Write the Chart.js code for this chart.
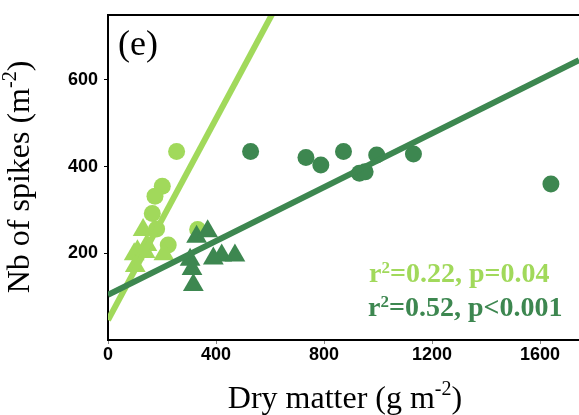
<!DOCTYPE html>
<html><head><meta charset="utf-8">
<script src="https://cdn.jsdelivr.net/npm/chart.js@4/dist/chart.umd.min.js"></script>
<style>html,body{margin:0;padding:0;background:#fff;overflow:hidden}</style>
</head><body>
<canvas id="c" width="579" height="415"></canvas>
<script>
const xTicks = [0, 400, 800, 1200, 1600];
const yTicks = [200, 400, 600];
const lightCircleX = [254, 201, 174, 164, 180, 223, 332];
const lightCircleY = [435, 355, 332, 292, 256, 219, 255];
const lightTriX = [130, 109, 97, 101, 137, 207, 144];
const lightTriY = [254, 205, 198, 171, 203, 198, 219];
const darkCircleX = [528, 733, 788, 872, 931, 952, 995, 1131, 1640];
const darkCircleY = [435, 421, 404, 435, 385, 388, 427, 429, 360];
const darkTriX = [328, 369, 421, 470, 390, 304, 311, 316];
const darkTriY = [238, 251, 195, 195, 188, 185, 164, 127];
const lightFitX = [0, 650];
const lightFitY = [46, 801];
const darkFitX = [0, 1744];
const darkFitY = [104, 646];

const LIGHT = '#a1d95b';
const DARK = '#3d8750';

const pts = (xs, ys) => xs.map((x, i) => ({x: x, y: ys[i]}));

function drawRich(ctx, segs, x, y, align) {
  let w = 0;
  segs.forEach(s => { ctx.font = s.font; w += ctx.measureText(s.t).width; });
  let cx = align === 'center' ? x - w / 2 : x;
  segs.forEach(s => {
    ctx.font = s.font;
    ctx.fillText(s.t, cx, y + (s.dy || 0));
    cx += ctx.measureText(s.t).width;
  });
}

const textPlugin = {
  id: 'texts',
  afterDraw(chart) {
    const ctx = chart.ctx;
    const a = chart.chartArea;
    ctx.save();
    ctx.strokeStyle = '#000';
    ctx.lineWidth = 2;
    ctx.beginPath();
    ctx.moveTo(a.left - 1, a.top);
    ctx.lineTo(a.right, a.top);
    ctx.stroke();
    ctx.textBaseline = 'alphabetic';
    ctx.fillStyle = '#000';
    ctx.font = '36px "Liberation Serif"';
    ctx.fillText('(e)', 118, 55);
    const big = '32px "Liberation Serif"', small = '20px "Liberation Serif"';
    drawRich(ctx, [
      {t: 'Dry matter (g m', font: big},
      {t: '-2', font: small, dy: -13},
      {t: ')', font: big}
    ], 345, 408, 'center');
    ctx.save();
    ctx.translate(29, 177);
    ctx.rotate(-Math.PI / 2);
    drawRich(ctx, [
      {t: 'Nb of spikes (m', font: big},
      {t: '-2', font: small, dy: -13},
      {t: ')', font: big}
    ], 0, 0, 'center');
    ctx.restore();
    const sb = 'bold 28px "Liberation Serif"', ss = 'bold 17px "Liberation Serif"';
    ctx.fillStyle = LIGHT;
    drawRich(ctx, [
      {t: 'r', font: sb}, {t: '2', font: ss, dy: -9}, {t: '=0.22, p=0.04', font: sb}
    ], 369, 282, 'left');
    ctx.fillStyle = DARK;
    drawRich(ctx, [
      {t: 'r', font: sb}, {t: '2', font: ss, dy: -9}, {t: '=0.52, p<0.001', font: sb}
    ], 368, 316, 'left');
    ctx.restore();
  }
};

new Chart(document.getElementById('c'), {
  type: 'scatter',
  data: {
    datasets: [
      {data: pts(darkFitX, darkFitY), showLine: true, borderColor: DARK, borderWidth: 6, pointRadius: 0, clip: 0, order: 0},
      {data: pts(darkCircleX, darkCircleY), pointStyle: 'circle', pointRadius: 8.5, backgroundColor: DARK, borderWidth: 0, order: 1},
      {data: pts(darkTriX, darkTriY), pointStyle: 'triangle', pointRadius: 12, backgroundColor: DARK, borderWidth: 0, order: 2},
      {data: pts(lightFitX, lightFitY), showLine: true, borderColor: LIGHT, borderWidth: 6, pointRadius: 0, clip: 0, order: 3},
      {data: pts(lightCircleX, lightCircleY), pointStyle: 'circle', pointRadius: 8.5, backgroundColor: LIGHT, borderWidth: 0, order: 5},
      {data: pts(lightTriX, lightTriY), pointStyle: 'triangle', pointRadius: 12, backgroundColor: LIGHT, borderWidth: 0, order: 4}
    ]
  },
  options: {
    responsive: false,
    animation: false,
    devicePixelRatio: 1,
    layout: {autoPadding: false, padding: {top: 15, right: 0, left: 0, bottom: 0}},
    plugins: {legend: {display: false}, tooltip: {enabled: false}},
    scales: {
      x: {
        type: 'linear', min: 0, max: 1744,
        afterBuildTicks: s => { s.ticks = xTicks.map(v => ({value: v})); },
        afterFit: s => { s.height = 75; s.paddingLeft = 0; s.paddingRight = 0; },
        grid: {drawOnChartArea: false, drawTicks: true, tickLength: 4, color: '#888'},
        border: {display: true, color: '#000', width: 2},
        ticks: {font: {family: 'Liberation Sans', weight: 'bold', size: 18}, color: '#000', padding: 0, maxRotation: 0, autoSkip: false,
          callback: v => String(v)}
      },
      y: {
        min: 0, max: 750,
        afterBuildTicks: s => { s.ticks = yTicks.map(v => ({value: v})); },
        afterFit: s => { s.width = 108; s.paddingTop = 0; s.paddingBottom = 0; },
        grid: {drawOnChartArea: false, drawTicks: true, tickLength: 4, color: '#000'},
        border: {display: true, color: '#000', width: 2},
        ticks: {font: {family: 'Liberation Sans', weight: 'bold', size: 18}, color: '#000', padding: 6, autoSkip: false,
          callback: v => String(v)}
      }
    }
  },
  plugins: [textPlugin]
});
</script>
</body></html>
